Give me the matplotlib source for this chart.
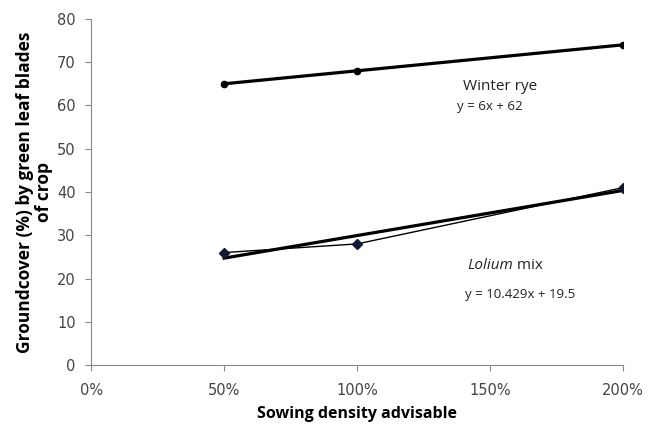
import matplotlib.pyplot as plt
from matplotlib.ticker import FuncFormatter

density = [0.5, 1.0, 2.0]
rye = [65, 68, 74]
lolium = [26, 28, 41]
rye_fit = (6, 62)
lolium_fit = (10.429, 19.5)

fig = plt.figure(figsize=(6.51, 4.29), dpi=100)
ax = fig.add_axes([0.140, 0.149, 0.817, 0.807])

grey = "#888888"
x_fit = [density[0], density[-1]]

# data lines
ax.plot(density, rye, color="black", lw=1, marker="o", ms=4.5, zorder=3)
ax.plot(density, lolium, color="black", lw=1, marker="D", ms=5,
        mfc="#0f1a33", mec="#0f1a33", zorder=3)

# linear trendlines
ax.plot(x_fit, [rye_fit[0] * x + rye_fit[1] for x in x_fit],
        color="black", lw=2.3, zorder=2)
ax.plot(x_fit, [lolium_fit[0] * x + lolium_fit[1] for x in x_fit],
        color="black", lw=2.3, zorder=2)

ax.set_xlim(0, 2)
ax.set_ylim(0, 80)
ax.set_xticks([0, 0.5, 1.0, 1.5, 2.0])
ax.set_yticks(range(0, 81, 10))
ax.xaxis.set_major_formatter(FuncFormatter(lambda v, p: f"{v * 100:.0f}%"))

for s in ["top", "right"]:
    ax.spines[s].set_visible(False)
for s in ["left", "bottom"]:
    ax.spines[s].set_color(grey)
ax.tick_params(colors=grey, labelcolor="#444444", labelsize=10.5, length=4,
               direction="out")
ax.tick_params(axis="x", pad=9)
ax.tick_params(axis="y", pad=7)

ax.set_xlabel("Sowing density advisable", fontsize=11.5, fontweight="bold",
              family="Open Sans", labelpad=6)
ax.set_ylabel("Groundcover (%) by green leaf blades\nof crop", fontsize=12.5,
              fontweight="bold", family="Open Sans", labelpad=3,
              linespacing=1.1)

ax.text(1.40, 64.3, "Winter rye", fontsize=11, family="Open Sans",
        va="center", color="#222222")
ax.text(1.376, 59.7, "y = 6x + 62", fontsize=9.5, family="Open Sans",
        va="center", color="#222222")
lol = ax.text(1.414, 23.1, "Lolium", fontsize=11, family="Open Sans",
              style="italic", va="center", color="#222222")
ax.annotate(" mix", xy=(1, 0.5), xycoords=lol, va="center", fontsize=11,
            family="Open Sans", color="#222222")
ax.text(1.406, 16.2, "y = 10.429x + 19.5", fontsize=9.5, family="Open Sans",
        va="center", color="#222222")

fig.savefig("out.png", dpi=100)
